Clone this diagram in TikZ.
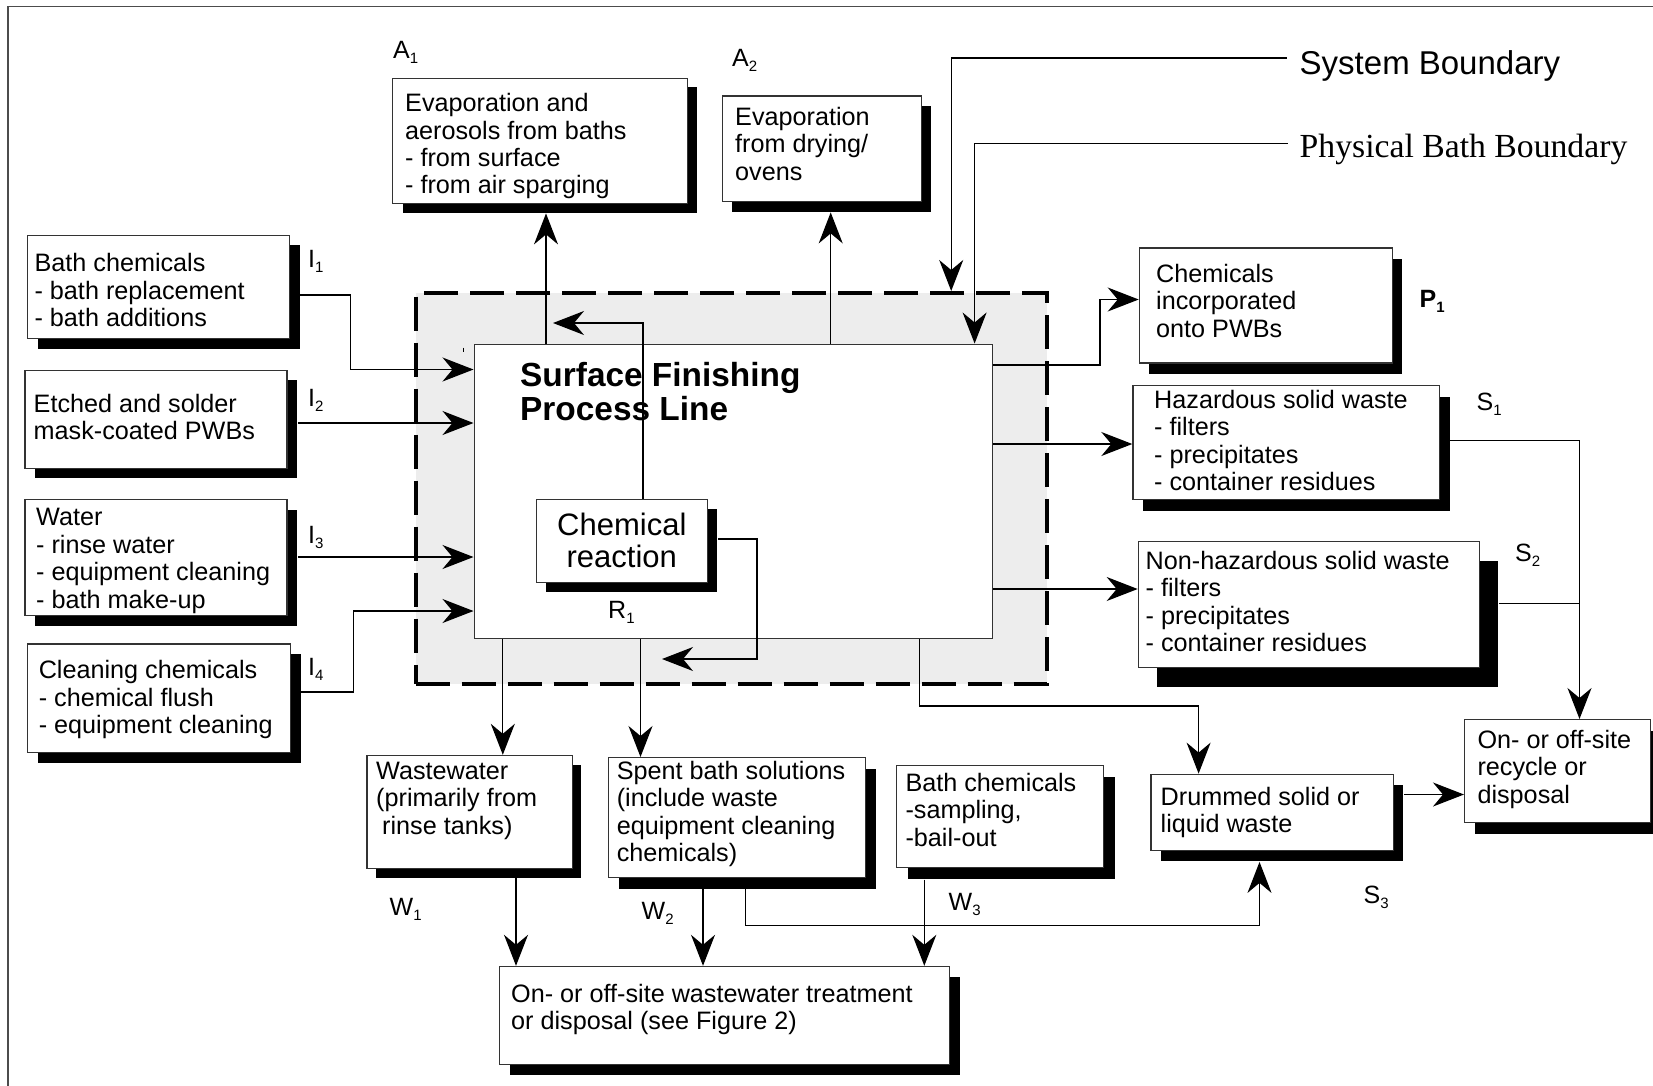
\documentclass[tikz,border=0pt]{standalone}
\usepackage{fontspec}
\setmainfont{Liberation Sans}
\newfontfamily\bodyserif{Liberation Serif}
\usetikzlibrary{arrows.meta,shadows}

% stream label: letter with a lowered index
\newcommand\flowtag[2]{{\fontsize{25}{25}\selectfont #1}\raisebox{-5pt}{\fontsize{15}{15}\selectfont #2}}
% fixed first-line height, so a text node's north edge sits 20pt above its first baseline
\newcommand\firstline{\rule{0pt}{20pt}}

\begin{document}
\begin{tikzpicture}[x=1pt,y=-1pt,
  box/.style={draw=black!80, line width=1.4pt, fill=white, inner sep=0pt, anchor=north west},
  shad/.style 2 args={drop shadow={shadow xshift=#1, shadow yshift=-#2, fill=black, opacity=1}},
  txt/.style={anchor=north west, align=left, inner sep=0pt, font=\fontsize{25.2}{27.4}\selectfont},
  tagl/.style={anchor=base west, inner sep=0pt},
  flow/.style={line width=1.3pt, draw=black},
  arr/.style={flow, -{Stealth[length=31pt,width=24pt,inset=10pt]}},
]
\useasboundingbox (0,0) rectangle (1653,1085);

% page frame
\draw[line width=1.5pt, black!70] (8,1095) -- (8,6.5) -- (1665,6.5);

% system boundary (dashed, shaded)
\node[draw, line width=4pt, dash pattern=on 34pt off 12pt, fill=black!7,
      minimum width=631pt, minimum height=390.5pt, inner sep=0pt, anchor=north west]
      (sysb) at (413.5,291) {};

% process line (physical bath boundary)
\node[box, line width=1.3pt, minimum width=518pt, minimum height=294.5pt] (main) at (473.5,343.5) {};
\draw[line width=1pt] (463.5,347.5) -- (463.5,352);
\node[anchor=north west, align=left, inner sep=0pt, font=\bfseries\fontsize{33.4}{33.5}\selectfont]
      (title) at (520,360.5) {\rule{0pt}{26pt}Surface Finishing\\Process Line};

% boxes with drop shadows
\node[box, shad={10pt}{9pt},     minimum width=294.5pt, minimum height=125.5pt] (evapA)     at (392,77.5) {};
\node[box, shad={10pt}{10pt},    minimum width=199pt,   minimum height=105.7pt] (evapB)     at (721.5,95.3) {};
\node[box, shad={10.5pt}{10pt},  minimum width=262pt,   minimum height=103.5pt] (bathchem)  at (26.5,234.5) {};
\node[box, shad={10pt}{9.6pt},   minimum width=262.1pt, minimum height=98.2pt]  (etched)    at (24.3,369.5) {};
\node[box, shad={10pt}{10.5pt},  minimum width=262.1pt, minimum height=116pt]   (water)     at (24.3,498.7) {};
\node[box, shad={10.5pt}{10.5pt},minimum width=263pt,   minimum height=108.8pt] (cleaning)  at (26.5,643.2) {};
\node[box, shad={10pt}{10pt},    minimum width=171pt,   minimum height=83pt, align=center,
      font=\fontsize{31}{32}\selectfont] (chemreact) at (535.6,498.7) {Chemical\\reaction};
\node[box, shad={10pt}{10.5pt},  minimum width=252.9pt, minimum height=115pt]   (incorp)    at (1138.7,247.4) {};
\node[box, shad={10pt}{11.5pt},  minimum width=306.5pt, minimum height=114.5pt] (hazard)    at (1132.3,384.5) {};
\node[box, shad={19pt}{19pt},    minimum width=341pt,   minimum height=126pt]   (nonhaz)    at (1137.7,541) {};
\node[box, shad={10pt}{11pt},    minimum width=186pt,   minimum height=103pt]   (recycle)   at (1464,719) {};
\node[box, shad={10pt}{10.5pt},  minimum width=242.2pt, minimum height=76.4pt]  (drummed)   at (1150.4,773.6) {};
\node[box, shad={11pt}{11.5pt},  minimum width=207pt,   minimum height=101.8pt] (sampling)  at (896,764.9) {};
\node[box, shad={9pt}{9pt},      minimum width=205.3pt, minimum height=113pt]   (wastewater) at (366.3,754.8) {};
\node[box, shad={11pt}{11pt},    minimum width=257pt,   minimum height=120pt]   (spent)     at (607.5,757) {};
\node[box, shad={10.5pt}{10.5pt},minimum width=450pt,   minimum height=98.2pt]  (treat)     at (499,965.8) {};

% box texts
\node[txt] (evapA-t) at (405,91.5) {\firstline Evaporation and\\aerosols from baths\\- from surface\\- from air sparging};
\node[txt] (evapB-t) at (735,105) {\firstline Evaporation\\from drying/\\ovens};
\node[txt] (bathchem-t) at (34.4,251.5) {\firstline Bath chemicals\\- bath replacement\\- bath additions};
\node[txt] (etched-t) at (33.5,392) {\firstline Etched and solder\\mask-coated PWBs};
\node[txt] (water-t) at (36,505.6) {\firstline Water\\- rinse water\\- equipment cleaning\\- bath make-up};
\node[txt] (cleaning-t) at (38.6,658.5) {\firstline Cleaning chemicals\\- chemical flush\\- equipment cleaning};
\node[txt] (incorp-t) at (1156,262) {\firstline Chemicals\\incorporated\\onto PWBs};
\node[txt] (hazard-t) at (1154,388) {\firstline Hazardous solid waste\\- filters\\- precipitates\\- container residues};
\node[txt] (nonhaz-t) at (1145.5,549) {\firstline Non-hazardous solid waste\\- filters\\- precipitates\\- container residues};
\node[txt] (recycle-t) at (1477.3,728) {\firstline On- or off-site\\recycle or\\disposal};
\node[txt] (drummed-t) at (1160.5,785) {\firstline Drummed solid or\\liquid waste};
\node[txt] (sampling-t) at (905.3,771.3) {\firstline Bath chemicals\\-sampling,\\-bail-out};
\node[txt] (wastewater-t) at (376,759) {\firstline Wastewater\\(primarily from\\\hspace*{6pt}rinse tanks)};
\node[txt] (spent-t) at (616.6,759) {\firstline Spent bath solutions\\(include waste\\equipment cleaning\\chemicals)};
\node[txt] (treat-t) at (511,982) {\firstline On- or off-site wastewater treatment\\or disposal (see Figure 2)};

% boundary captions
\node[anchor=base west, inner sep=0pt, font=\fontsize{33}{33}\selectfont] (sbtext) at (1299.5,74.5) {System Boundary};
\node[anchor=base west, inner sep=0pt, font=\bodyserif\fontsize{33.7}{33.7}\selectfont] (pbtext) at (1299.5,157) {Physical Bath Boundary};

% stream labels
\node[tagl] (lA1) at (393,58.5) {\flowtag{A}{1}};
\node[tagl] (lA2) at (732,66.5) {\flowtag{A}{2}};
\node[tagl] (lI1) at (308,267) {\flowtag{I}{1}};
\node[tagl] (lI2) at (308,406) {\flowtag{I}{2}};
\node[tagl] (lI3) at (308,543) {\flowtag{I}{3}};
\node[tagl] (lI4) at (308,675) {\flowtag{I}{4}};
\node[tagl] (lP1) at (1419.5,307) {\bfseries\flowtag{P}{1}};
\node[tagl] (lS1) at (1476.5,410.5) {\flowtag{S}{1}};
\node[tagl] (lS2) at (1515,561) {\flowtag{S}{2}};
\node[tagl] (lS3) at (1363.5,903) {\flowtag{S}{3}};
\node[tagl] (lR1) at (608,618) {\flowtag{R}{1}};
\node[tagl] (lW1) at (389.5,915) {\flowtag{W}{1}};
\node[tagl] (lW2) at (641.5,919) {\flowtag{W}{2}};
\node[tagl] (lW3) at (948.5,910) {\flowtag{W}{3}};

% bend points of the streams
\coordinate (i1bend) at (350.5,295);
\coordinate (i1knee) at (350.5,369.5);
\coordinate (i2) at (300,423);
\coordinate (i3) at (300,557);
\coordinate (i4bend) at (353.6,692);
\coordinate (i4knee) at (353.6,611);
\coordinate (a1x) at (546,0);
\coordinate (a2x) at (830.7,0);
\coordinate (rc) at (643,323);
\coordinate (rcend) at (553,323);
\coordinate (lp1) at (757,539);
\coordinate (lp2) at (757,659);
\coordinate (lpend) at (662,659);
\coordinate (wwx) at (502.8,0);
\coordinate (spx) at (640.5,0);
\coordinate (dr1) at (919.5,706);
\coordinate (dr2) at (1198.6,706);
\coordinate (p1a) at (1100,365);
\coordinate (p1b) at (1100,299.5);
\coordinate (hz) at (0,444);
\coordinate (nh) at (0,589);
\coordinate (s1a) at (1579.5,440.5);
\coordinate (s2a) at (1579.5,603.3);
\coordinate (dy) at (0,794.5);
\coordinate (w1x) at (516,0);
\coordinate (w2x) at (703,0);
\coordinate (w3x) at (924.3,0);
\coordinate (sd1) at (745.3,925.7);
\coordinate (sd2) at (1259.5,925.7);
\coordinate (sb1) at (951.2,58);
\coordinate (pb1) at (974.6,143.5);

% inputs
\draw[arr] ([xshift=10.5pt]bathchem.east |- i1bend) -- (i1bend) -- (i1knee) -- (main.west |- i1knee);
\draw[arr] ([xshift=10pt]etched.east |- i2) -- (main.west |- i2);
\draw[arr] ([xshift=10pt]water.east |- i3) -- (main.west |- i3);
\draw[arr] ([xshift=10.5pt]cleaning.east |- i4bend) -- (i4bend) -- (i4knee) -- (main.west |- i4knee);

% air releases
\draw[arr] (main.north -| a1x) -- ([yshift=-9pt]evapA.south -| a1x);
\draw[arr] (main.north -| a2x) -- ([yshift=-10pt]evapB.south -| a2x);

% reaction streams
\draw[arr] (chemreact.north -| rc) -- (rc) -- (rcend);
\draw[arr] ([xshift=10pt]chemreact.east |- lp1) -- (lp1) -- (lp2) -- (lpend);

% outputs to the right
\draw[arr] (main.east |- p1a) -- (p1a) -- (p1b) -- (incorp.west |- p1b);
\draw[arr] (main.east |- hz) -- (hazard.west |- hz);
\draw[arr] (main.east |- nh) -- (nonhaz.west |- nh);
\draw[arr] ([xshift=10pt]hazard.east |- s1a) -- (s1a) -- (recycle.north -| s1a);
\draw[flow] ([xshift=19pt]nonhaz.east |- s2a) -- (s2a);
\draw[arr] ([xshift=10pt]drummed.east |- dy) -- (recycle.west |- dy);

% outputs downwards
\draw[arr] (main.south -| wwx) -- (wastewater.north -| wwx);
\draw[arr] (main.south -| spx) -- (spent.north -| spx);
\draw[arr] (main.south -| dr1) -- (dr1) -- (dr2) -- (drummed.north -| dr2);
\draw[arr] ([yshift=-9pt]wastewater.south -| w1x) -- (treat.north -| w1x);
\draw[arr] ([yshift=-11pt]spent.south -| w2x) -- (treat.north -| w2x);
\draw[arr] ([yshift=-11.5pt]sampling.south -| w3x) -- (treat.north -| w3x);
\draw[arr] ([yshift=-11pt]spent.south -| sd1) -- (sd1) -- (sd2) -- ([yshift=-10.5pt]drummed.south -| sd2);

% boundary leaders
\draw[arr] ([xshift=-13pt]sbtext.west |- sb1) -- (sb1) -- (sysb.north -| sb1);
\draw[arr] ([xshift=-12pt]pbtext.west |- pb1) -- (pb1) -- (main.north -| pb1);
\end{tikzpicture}
\end{document}
